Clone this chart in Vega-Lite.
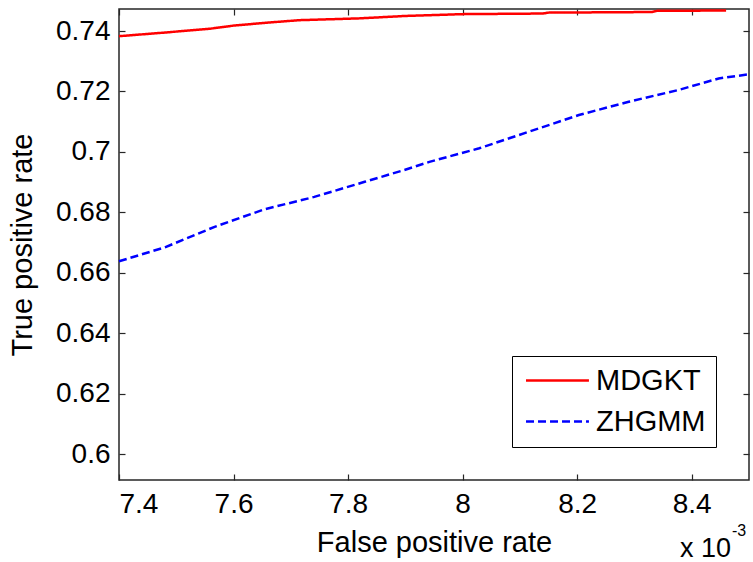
{
  "$schema": "https://vega.github.io/schema/vega-lite/v6.json",
  "width": 630,
  "height": 471,
  "autosize": {"type": "none"},
  "padding": {"left": 119, "top": 9, "right": 4, "bottom": 82},
  "background": "white",
  "config": {
    "font": "Liberation Sans",
    "view": {"stroke": "#262626", "strokeWidth": 1.5},
    "axis": {
      "grid": false,
      "domain": false,
      "tickColor": "#262626",
      "tickWidth": 1.2,
      "tickSize": -6,
      "labelColor": "black",
      "labelFontSize": 28,
      "labelFont": "Liberation Sans",
      "titleFont": "Liberation Sans",
      "titleFontSize": 29,
      "titleFontWeight": "normal",
      "titleColor": "black"
    }
  },
  "datasets": {
    "curves": [
      {"method": "MDGKT", "fpr": 7.40, "tpr": 0.7383},
      {"method": "MDGKT", "fpr": 7.48, "tpr": 0.7395},
      {"method": "MDGKT", "fpr": 7.56, "tpr": 0.7408},
      {"method": "MDGKT", "fpr": 7.60, "tpr": 0.7418},
      {"method": "MDGKT", "fpr": 7.66, "tpr": 0.7428},
      {"method": "MDGKT", "fpr": 7.715, "tpr": 0.7436},
      {"method": "MDGKT", "fpr": 7.82, "tpr": 0.7442},
      {"method": "MDGKT", "fpr": 7.90, "tpr": 0.7450},
      {"method": "MDGKT", "fpr": 8.00, "tpr": 0.7456},
      {"method": "MDGKT", "fpr": 8.14, "tpr": 0.7458},
      {"method": "MDGKT", "fpr": 8.15, "tpr": 0.7461},
      {"method": "MDGKT", "fpr": 8.33, "tpr": 0.7463},
      {"method": "MDGKT", "fpr": 8.34, "tpr": 0.7467},
      {"method": "MDGKT", "fpr": 8.46, "tpr": 0.7468},
      {"method": "ZHGMM", "fpr": 7.40, "tpr": 0.6638},
      {"method": "ZHGMM", "fpr": 7.48, "tpr": 0.6684},
      {"method": "ZHGMM", "fpr": 7.567, "tpr": 0.6752},
      {"method": "ZHGMM", "fpr": 7.654, "tpr": 0.6810},
      {"method": "ZHGMM", "fpr": 7.741, "tpr": 0.6851},
      {"method": "ZHGMM", "fpr": 7.829, "tpr": 0.6901},
      {"method": "ZHGMM", "fpr": 7.898, "tpr": 0.6940},
      {"method": "ZHGMM", "fpr": 7.942, "tpr": 0.6967},
      {"method": "ZHGMM", "fpr": 8.029, "tpr": 0.7012},
      {"method": "ZHGMM", "fpr": 8.116, "tpr": 0.7067},
      {"method": "ZHGMM", "fpr": 8.203, "tpr": 0.7122},
      {"method": "ZHGMM", "fpr": 8.290, "tpr": 0.7166},
      {"method": "ZHGMM", "fpr": 8.377, "tpr": 0.7205},
      {"method": "ZHGMM", "fpr": 8.447, "tpr": 0.7243},
      {"method": "ZHGMM", "fpr": 8.50, "tpr": 0.7257}
    ],
    "note": [
      {"x": 8.5, "y": 0.5914, "base": "x 10", "exponent": "-3"}
    ]
  },
  "layer": [
    {
      "data": {"name": "curves"},
      "mark": {"type": "line", "strokeWidth": 2.5},
      "encoding": {
        "x": {
          "field": "fpr", "type": "quantitative",
          "scale": {"domain": [7.4, 8.5], "nice": false, "zero": false},
          "axis": {"orient": "bottom", "values": [7.4, 7.6, 7.8, 8.0, 8.2, 8.4], "format": ".1~f", "labelPadding": 16, "title": "False positive rate", "titlePadding": 10}
        },
        "y": {
          "field": "tpr", "type": "quantitative",
          "scale": {"domain": [0.5914, 0.7473], "nice": false, "zero": false},
          "axis": {"orient": "left", "values": [0.6, 0.62, 0.64, 0.66, 0.68, 0.7, 0.72, 0.74], "format": ".2~f", "labelPadding": 15, "title": "True positive rate", "titlePadding": 18}
        },
        "color": {
          "field": "method", "type": "nominal",
          "scale": {"domain": ["MDGKT", "ZHGMM"], "range": ["#ff0000", "#0000ff"]},
          "legend": {
            "title": null, "orient": "bottom-right", "offset": 33,
            "strokeColor": "black", "fillColor": "white", "padding": 10,
            "symbolType": "M-2,0H10", "symbolSize": 110, "symbolStrokeWidth": 2.5,
            "labelFontSize": 29, "labelColor": "black", "labelOffset": 45, "rowPadding": 11
          }
        },
        "strokeDash": {
          "field": "method", "type": "nominal",
          "scale": {"domain": ["MDGKT", "ZHGMM"], "range": [[1, 0], [8, 4]]},
          "legend": {
            "title": null, "orient": "bottom-right", "offset": 33,
            "strokeColor": "black", "fillColor": "white", "padding": 10,
            "symbolType": "M-2,0H10", "symbolSize": 110, "symbolStrokeWidth": 2.5,
            "labelFontSize": 29, "labelColor": "black", "labelOffset": 45, "rowPadding": 11
          }
        }
      }
    },
    {
      "data": {"name": "curves"},
      "mark": {"type": "line", "strokeOpacity": 0},
      "encoding": {
        "x": {"field": "fpr", "type": "quantitative", "axis": {"orient": "top", "values": [7.4, 7.6, 7.8, 8.0, 8.2, 8.4], "labels": false, "title": null}},
        "y": {"field": "tpr", "type": "quantitative", "axis": {"orient": "right", "values": [0.6, 0.62, 0.64, 0.66, 0.68, 0.7, 0.72, 0.74], "labels": false, "title": null}},
        "detail": {"field": "method"}
      }
    },
    {
      "data": {"name": "note"},
      "mark": {"type": "text", "align": "right", "baseline": "alphabetic", "dx": -18, "dy": 77, "fontSize": 27, "font": "Liberation Sans", "color": "black"},
      "encoding": {
        "x": {"field": "x", "type": "quantitative", "axis": null},
        "y": {"field": "y", "type": "quantitative", "axis": null},
        "text": {"field": "base"}
      }
    },
    {
      "data": {"name": "note"},
      "mark": {"type": "text", "align": "left", "baseline": "alphabetic", "dx": -17, "dy": 56, "fontSize": 16, "font": "Liberation Sans", "color": "black"},
      "encoding": {
        "x": {"field": "x", "type": "quantitative", "axis": null},
        "y": {"field": "y", "type": "quantitative", "axis": null},
        "text": {"field": "exponent"}
      }
    }
  ]
}
